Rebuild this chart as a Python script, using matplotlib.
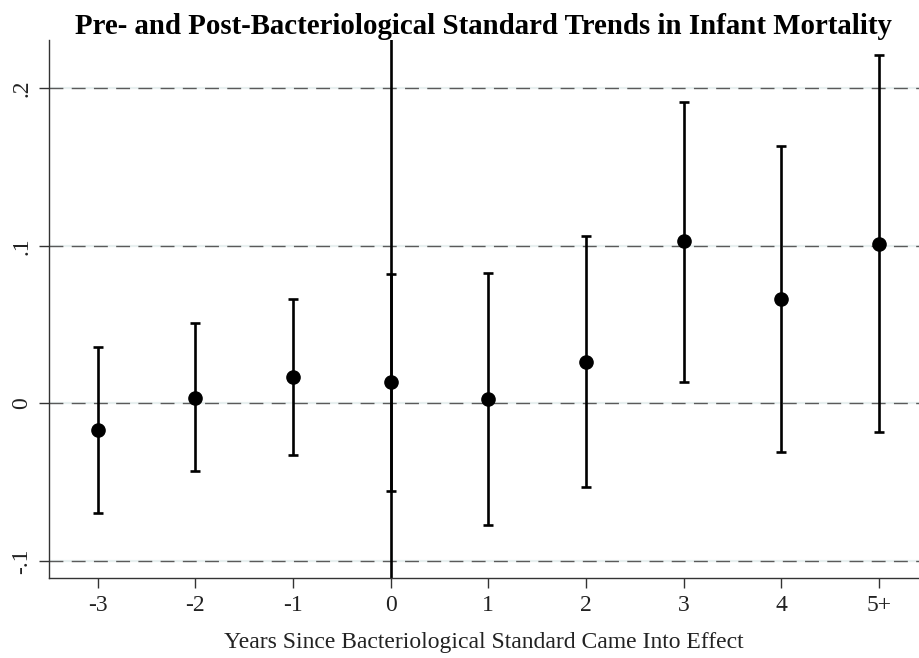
import matplotlib
matplotlib.use("Agg")
from matplotlib import pyplot as plt

# event-time estimates
years = [-3, -2, -1, 0, 1, 2, 3, 4, 5]
year_labels = ["-3", "-2", "-1", "0", "1", "2", "3", "4", "5+"]
coef = [-0.0165, 0.0038, 0.0169, 0.0136, 0.0030, 0.0266, 0.1029, 0.0664, 0.1014]
ci_low = [-0.0691, -0.0429, -0.0325, -0.0553, -0.0773, -0.0532, 0.0138, -0.0308, -0.0179]
ci_high = [0.0359, 0.0510, 0.0664, 0.0820, 0.0830, 0.1063, 0.1912, 0.1633, 0.2210]
y_ticks = [-0.1, 0, 0.1, 0.2]
y_tick_labels = ["-.1", "0", ".1", ".2"]

plt.rcParams["font.family"] = ["Liberation Serif", "DejaVu Serif"]

fig = plt.figure(figsize=(9.19, 6.58), dpi=100)
ax = fig.add_axes([0.053, 0.1216, 0.947, 0.8176])

# dashed horizontal grid, Stata style
for yv in y_ticks:
    ax.axhline(yv, color="#e8f0f0", lw=1.6, zorder=1)
    ax.axhline(yv, color="#5a5a5a", lw=1.0, dashes=(10, 6), zorder=1.5)

ax.axvline(0, color="black", lw=1.9, zorder=2)

err_lo = [c - lo for c, lo in zip(coef, ci_low)]
err_hi = [hi - c for c, hi in zip(coef, ci_high)]
ax.errorbar(years, coef, yerr=[err_lo, err_hi], fmt="o", color="black",
            ecolor="black", elinewidth=1.9, capsize=3.8, capthick=1.9,
            markersize=9.5, zorder=3)

ax.set_xlim(-3.5, 5.41)
ax.set_ylim(-0.1106, 0.2304)
ax.set_xticks(years)
ax.set_xticklabels(year_labels)
ax.set_yticks(y_ticks)
ax.set_yticklabels(y_tick_labels, rotation=90, va="center")

for side in ["top", "right"]:
    ax.spines[side].set_visible(False)
for side in ["left", "bottom"]:
    ax.spines[side].set_color("#333333")
    ax.spines[side].set_linewidth(1.0)

ax.tick_params(axis="both", direction="out", length=7, width=1.0,
               color="#333333", labelsize=17, labelcolor="#222222", pad=5)

ax.set_xlabel("Years Since Bacteriological Standard Came Into Effect",
              fontsize=17, color="#222222", labelpad=12)
ax.set_title("Pre- and Post-Bacteriological Standard Trends in Infant Mortality",
             fontsize=20.8, fontweight="bold", pad=4)

fig.savefig("out.png", dpi=100)
